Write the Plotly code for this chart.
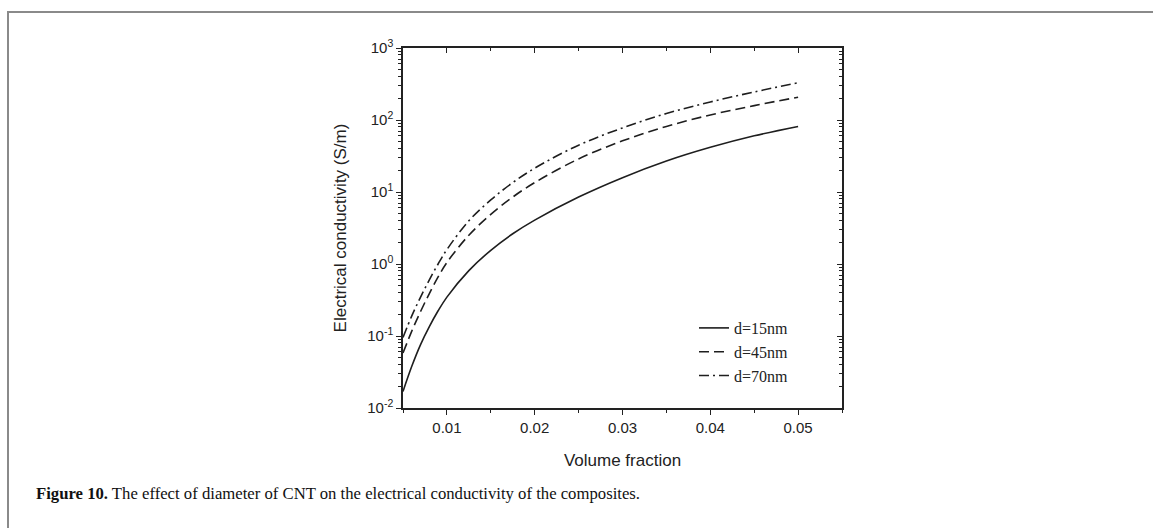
import plotly.graph_objects as go

# ---- data ----
volume_fraction = [0.005, 0.006, 0.007, 0.008, 0.009, 0.010, 0.0125, 0.015,
                   0.0175, 0.020, 0.025, 0.030, 0.035, 0.040, 0.045, 0.050]
sigma_d15 = [0.017, 0.038, 0.076, 0.135, 0.224, 0.347, 0.81, 1.55,
             2.63, 4.07, 8.5, 15.8, 26.9, 41.7, 60.3, 81.3]
sigma_d45 = [0.058, 0.117, 0.219, 0.389, 0.661, 1.05, 2.51, 4.90,
             8.51, 13.5, 28.8, 51.3, 81.3, 117.5, 158.5, 207]
sigma_d70 = [0.0955, 0.19, 0.347, 0.603, 1.0, 1.585, 3.98, 7.76,
             13.5, 21.4, 44.7, 77.6, 123, 178, 245, 329]
series_names = ["d=15nm", "d=45nm", "d=70nm"]
x_ticks = [0.01, 0.02, 0.03, 0.04, 0.05]
x_tick_labels = ["0.01", "0.02", "0.03", "0.04", "0.05"]
y_ticks = [0.01, 0.1, 1, 10, 100, 1000]
y_tick_labels = ["10<sup>-2</sup>", "10<sup>-1</sup>", "10<sup>0</sup>",
                 "10<sup>1</sup>", "10<sup>2</sup>", "10<sup>3</sup>"]
y_minor_ticks = [m * d for d in [0.01, 0.1, 1, 10, 100] for m in range(2, 10)]
x_range = [0.005, 0.055]
y_log_range = [-2, 3]

x_title = "Volume fraction"
y_title = "Electrical conductivity (S/m)"
caption = "<b>Figure 10.</b> The effect of diameter of CNT on the electrical conductivity of the composites."

# ---- figure ----
W, H = 1153, 528
L, R, T, B = 403, 842, 48, 408  # plot area pixels

line_col = "#1e1e1e"
dashes = ["solid", "10px,5px", "10px,4px,2px,4px"]

fig = go.Figure()
for name, ys, dash in zip(series_names, [sigma_d15, sigma_d45, sigma_d70], dashes):
    fig.add_trace(go.Scatter(
        x=volume_fraction, y=ys, name=name, mode="lines",
        line=dict(color=line_col, width=1.6, dash=dash, shape="spline", smoothing=1),
        hoverinfo="skip"))

axis_common = dict(showgrid=False, zeroline=False, showline=True,
                   linecolor="#222", linewidth=1.5, tickcolor="#222",
                   tickfont=dict(family="Liberation Sans", size=15, color="#222"))

fig.update_layout(
    width=W, height=H,
    paper_bgcolor="white", plot_bgcolor="white",
    margin=dict(l=L, r=W - R, t=T, b=H - B, pad=0),
    showlegend=True,
    legend=dict(x=(694 - L) / (R - L), y=(B - 311) / (B - T),
                xanchor="left", yanchor="top",
                bgcolor="rgba(0,0,0,0)", borderwidth=0,
                font=dict(family="Liberation Serif", size=16, color="#222"),
                tracegroupgap=0, itemwidth=30),
    xaxis=dict(**axis_common, range=x_range, tickvals=x_ticks, ticktext=x_tick_labels,
               ticks="outside", ticklen=5, tickwidth=1.2,
               minor=dict(dtick=0.005, tick0=0.005, ticks="outside", ticklen=3,
                          tickwidth=1.2, tickcolor="#222", showgrid=False),
               title=dict(text=x_title, standoff=19,
                          font=dict(family="Liberation Sans", size=17, color="#222"))),
    yaxis=dict(**axis_common, type="log", range=y_log_range,
               tickvals=y_ticks, ticktext=y_tick_labels,
               ticks="outside", ticklen=5, tickwidth=1.2,
               minor=dict(tickvals=y_minor_ticks, ticks="outside", ticklen=3, tickwidth=1,
                          tickcolor="#222", showgrid=False),
               title=dict(text=y_title, standoff=16,
                          font=dict(family="Liberation Sans", size=17, color="#222"))),
    xaxis2=dict(overlaying="x", side="top", anchor="y", range=x_range,
                showgrid=False, zeroline=False, showline=True, linecolor="#222",
                linewidth=1.5, tickvals=x_ticks, showticklabels=False,
                ticks="inside", ticklen=5, tickwidth=1.2, tickcolor="#222",
                minor=dict(dtick=0.005, tick0=0.005, ticks="inside", ticklen=3,
                           tickwidth=1.2, tickcolor="#222", showgrid=False)),
    yaxis2=dict(overlaying="y", side="right", anchor="x", type="log", range=y_log_range,
                tickvals=y_ticks, showgrid=False, zeroline=False, showline=True,
                linecolor="#222", linewidth=1.5, showticklabels=False,
                ticks="inside", ticklen=5, tickwidth=1.2, tickcolor="#222",
                minor=dict(tickvals=y_minor_ticks, ticks="inside", ticklen=3, tickwidth=1,
                           tickcolor="#222", showgrid=False)),
)

# invisible helper traces so the mirror axes are drawn
fig.add_trace(go.Scatter(x=[None], y=[None], xaxis="x2", yaxis="y", showlegend=False,
                         hoverinfo="skip", mode="lines"))
fig.add_trace(go.Scatter(x=[None], y=[None], xaxis="x", yaxis="y2", showlegend=False,
                         hoverinfo="skip", mode="lines"))

# page frame lines (top and left) and caption
pw, ph = R - L, B - T
def px(xp):
    return (xp - L) / pw
def py(yp):
    return (B - yp) / ph

fig.add_shape(type="line", xref="paper", yref="paper",
              x0=px(7), x1=px(W + 5), y0=py(12), y1=py(12),
              line=dict(color="#8a8a8a", width=2))
fig.add_shape(type="line", xref="paper", yref="paper",
              x0=px(8), x1=px(8), y0=py(12), y1=py(H + 5),
              line=dict(color="#8a8a8a", width=2))

fig.add_annotation(text=caption, xref="paper", yref="paper",
                   x=px(34), y=py(493), xanchor="left", yanchor="middle",
                   showarrow=False,
                   font=dict(family="Liberation Serif", size=16.7, color="#111"))

fig.write_html("out.html",
               config={"displayModeBar": False},
               post_script="document.body.style.margin='0';document.body.style.overflow='hidden';")
